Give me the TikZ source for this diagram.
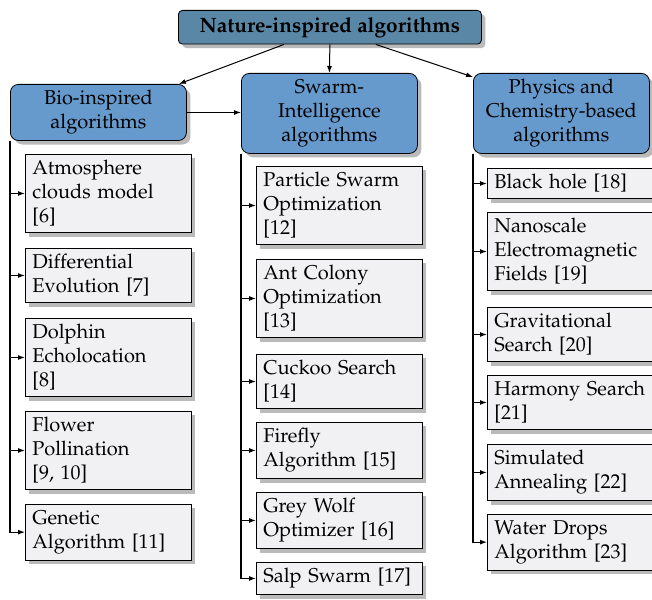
\documentclass[tikz,border=0pt]{standalone}
\usepackage[T1]{fontenc}
\usepackage{mathpazo}
\usetikzlibrary{arrows.meta,shadows}

\definecolor{topblue}{HTML}{5B87A7}
\definecolor{groupblue}{HTML}{6699CC}
\definecolor{algogray}{HTML}{F1F1F3}

\begin{document}
\begin{tikzpicture}[
    x=0.5pt, y=-0.5pt,
    font=\fontsize{10}{12}\selectfont,
    boxshadow/.style={drop shadow={shadow xshift=2pt, shadow yshift=-2pt, fill=black!27, opacity=1}},
    rootbox/.style={draw, fill=topblue, rounded corners=2pt, boxshadow, anchor=north west,
      minimum width=151.5pt, minimum height=16.5pt, font=\fontsize{10.4}{12}\selectfont\bfseries},
    groupbox/.style={draw, fill=groupblue, rounded corners=4pt, boxshadow, anchor=north west,
      align=center, minimum width=88pt, inner sep=3pt},
    algobox/.style={draw, fill=algogray, boxshadow, anchor=north west,
      align=left, text width=76pt, inner xsep=3.5pt, inner ysep=3pt},
    link/.style={-{Latex[length=3.5pt,width=2.5pt]}, line width=0.5pt},
    branch/.style={-{Latex[length=3.5pt,width=2.5pt]}, line width=0.6pt}
  ]
    \useasboundingbox (0,0) rectangle (652,599);

    \node[rootbox] (nature) at (178,10) {Nature-inspired algorithms};
    \node[groupbox, minimum height=28pt] (bio) at (10,84) {Bio-inspired\\algorithms};
    \node[groupbox, minimum height=40pt] (swarm) at (241,73) {Swarm-\\Intelligence\\algorithms};
    \node[groupbox, minimum height=40pt] (phys) at (473,73) {Physics and\\Chemistry-based\\algorithms};

    % bio-inspired
    \node[algobox] (b1) at (25,154) {Atmosphere\\clouds model\\{[6]}};
    \node[algobox] (b2) at (25,248) {Differential\\Evolution [7]};
    \node[algobox] (b3) at (25,318) {Dolphin\\Echolocation\\{[8]}};
    \node[algobox] (b4) at (25,411) {Flower\\Pollination\\{[9, 10]}};
    \node[algobox] (b5) at (25,504) {Genetic\\Algorithm [11]};

    % swarm intelligence
    \node[algobox] (s1) at (256,166) {Particle Swarm\\Optimization\\{[12]}};
    \node[algobox] (s2) at (256,259) {Ant Colony\\Optimization\\{[13]}};
    \node[algobox] (s3) at (256,354) {Cuckoo Search\\{[14]}};
    \node[algobox] (s4) at (256,422) {Firefly\\Algorithm [15]};
    \node[algobox] (s5) at (256,492) {Grey Wolf\\Optimizer [16]};
    \node[algobox] (s6) at (256,562) {Salp Swarm [17]};

    % physics and chemistry
    \node[algobox] (p1) at (487,168) {Black hole [18]};
    \node[algobox] (p2) at (487,212) {Nanoscale\\Electromagnetic\\Fields [19]};
    \node[algobox] (p3) at (487,307) {Gravitational\\Search [20]};
    \node[algobox] (p4) at (487,375) {Harmony Search\\{[21]}};
    \node[algobox] (p5) at (487,444) {Simulated\\Annealing [22]};
    \node[algobox] (p6) at (487,514) {Water Drops\\Algorithm [23]};

    \draw[link] ([xshift=-23pt]nature.south) -- ([xshift=-4pt]bio.north east);
    \draw[link] (nature.south) -- (swarm.north);
    \draw[link] ([xshift=23pt]nature.south) -- ([yshift=-2pt]phys.north west);
    \draw[link] (bio.east) -- (bio.east -| swarm.west);

    \draw[branch] (bio.south west) |- (b1.west);
    \draw[branch] (bio.south west) |- (b2.west);
    \draw[branch] (bio.south west) |- (b3.west);
    \draw[branch] (bio.south west) |- (b4.west);
    \draw[branch] (bio.south west) |- (b5.west);

    \draw[branch] (swarm.south west) |- (s1.west);
    \draw[branch] (swarm.south west) |- (s2.west);
    \draw[branch] (swarm.south west) |- (s3.west);
    \draw[branch] (swarm.south west) |- (s4.west);
    \draw[branch] (swarm.south west) |- (s5.west);
    \draw[branch] (swarm.south west) |- (s6.west);

    \draw[branch] (phys.south west) |- (p1.west);
    \draw[branch] (phys.south west) |- (p2.west);
    \draw[branch] (phys.south west) |- (p3.west);
    \draw[branch] (phys.south west) |- (p4.west);
    \draw[branch] (phys.south west) |- (p5.west);
    \draw[branch] (phys.south west) |- (p6.west);
  \end{tikzpicture}
\end{document}
